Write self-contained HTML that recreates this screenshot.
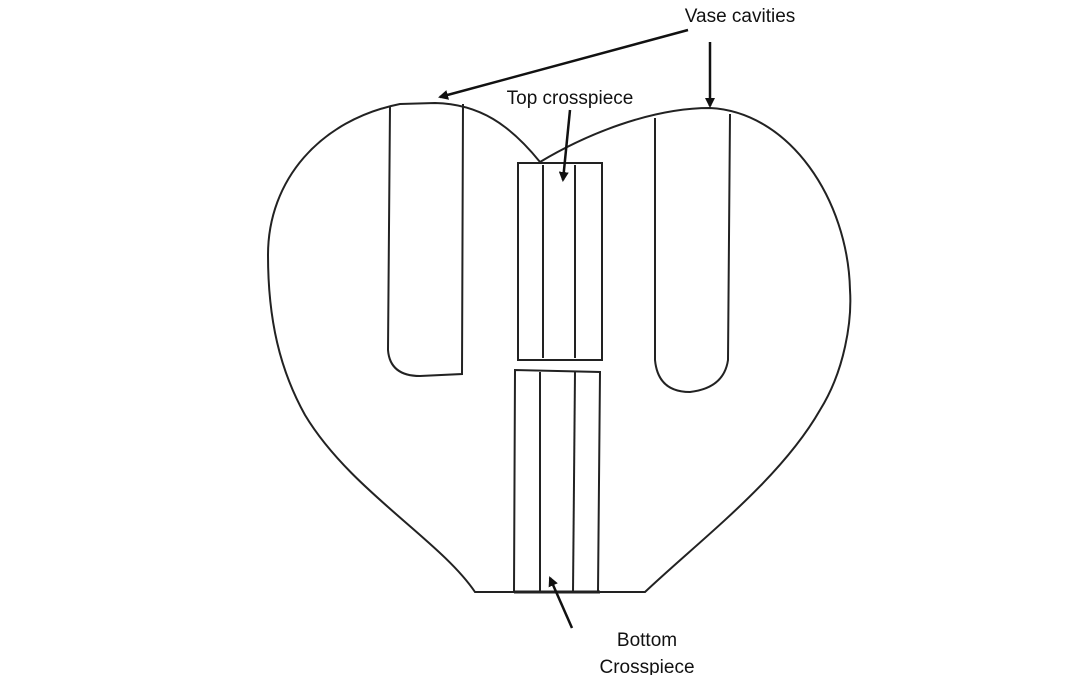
<!DOCTYPE html>
<html><head><meta charset="utf-8"><style>
html,body{margin:0;padding:0;background:#fff;}
svg{display:block;}
text{font-family:"Liberation Sans",sans-serif;fill:#111;}
</style></head><body>
<svg width="1080" height="675" viewBox="0 0 1080 675" xmlns="http://www.w3.org/2000/svg">
<defs><marker id="ah" markerWidth="10" markerHeight="10" refX="8" refY="5" orient="auto" markerUnits="userSpaceOnUse"><path d="M0,0 L10,5 L0,10 Z" fill="#111"/></marker></defs>
<g fill="none" stroke="#222" stroke-width="2">
<path d="M540 162 C510 125 480 104 435 103 L400 104 C320 120 268 180 268 255 C268 320 280 370 305 415 C350 490 440 540 475 592 L645 592 C700 540 780 480 820 410 C845 370 852 320 850 290 C848 200 790 112 710 108 C650 108 585 135 540 162 Z"/>
<path d="M390 106 L388 350 Q390 376 420 376 L462 374 L463 104"/>
<path d="M655 118 L655 360 Q658 392 690 392 Q724 388 728 360 L730 114"/>
<rect x="518" y="163" width="84" height="197"/>
<line x1="543" y1="165" x2="543" y2="358"/>
<line x1="575" y1="165" x2="575" y2="358"/>
<path d="M514 592 L515 370 L600 372 L598 592"/>
<line x1="540" y1="372" x2="540" y2="592"/>
<line x1="575" y1="372" x2="573" y2="592"/>
<line x1="514" y1="592" x2="600" y2="592" stroke-width="3"/>
</g>
<g stroke="#111" stroke-width="2.5">
<line x1="688" y1="30" x2="440" y2="97" marker-end="url(#ah)"/>
<line x1="710" y1="42" x2="710" y2="106" marker-end="url(#ah)"/>
<line x1="570" y1="110" x2="563" y2="180" marker-end="url(#ah)"/>
<line x1="572" y1="628" x2="550" y2="578" marker-end="url(#ah)"/>
</g>
<text x="740" y="22" font-size="19" text-anchor="middle">Vase cavities</text>
<text x="570" y="104" font-size="19" text-anchor="middle">Top crosspiece</text>
<text x="647" y="646" font-size="19" text-anchor="middle">Bottom</text>
<text x="647" y="673" font-size="19" text-anchor="middle">Crosspiece</text>
</svg>
</body></html>
